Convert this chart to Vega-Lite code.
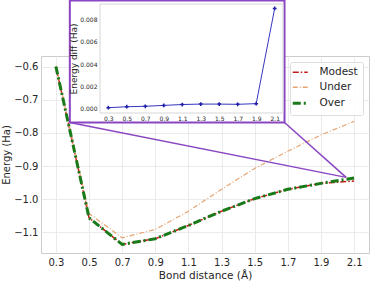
{
  "$schema": "https://vega.github.io/schema/vega-lite/v6.json",
  "autosize": "none",
  "width": 328,
  "height": 197,
  "padding": {"left": 41, "top": 56, "right": 5, "bottom": 29},
  "config": {
    "font": "DejaVu Sans",
    "view": {"stroke": "#cccccc", "strokeWidth": 1},
    "axis": {"gridColor": "#e6e6e6", "gridWidth": 0.8, "domain": false, "ticks": false, "labelColor": "#262626", "titleColor": "#262626", "titleFontWeight": "normal", "labelFontSize": 10, "titleFontSize": 10.5},
    "legend": {"orient": "top-right", "offset": 6, "fillColor": "rgba(255,255,255,0.85)", "strokeColor": "#dddddd", "padding": 5, "cornerRadius": 2, "labelFontSize": 10.5, "labelColor": "#262626", "symbolType": "stroke", "symbolSize": 225, "rowPadding": 4, "labelOffset": 14}
  },
  "datasets": {
    "main": [
      {"series": "Modest", "x": 0.3, "y": -0.600},
      {"series": "Modest", "x": 0.5, "y": -1.056},
      {"series": "Modest", "x": 0.7, "y": -1.136},
      {"series": "Modest", "x": 0.9, "y": -1.119},
      {"series": "Modest", "x": 1.1, "y": -1.079},
      {"series": "Modest", "x": 1.3, "y": -1.036},
      {"series": "Modest", "x": 1.5, "y": -0.998},
      {"series": "Modest", "x": 1.7, "y": -0.970},
      {"series": "Modest", "x": 1.9, "y": -0.952},
      {"series": "Modest", "x": 2.1, "y": -0.945},
      {"series": "Under", "x": 0.3, "y": -0.598},
      {"series": "Under", "x": 0.5, "y": -1.043},
      {"series": "Under", "x": 0.7, "y": -1.116},
      {"series": "Under", "x": 0.9, "y": -1.091},
      {"series": "Under", "x": 1.1, "y": -1.036},
      {"series": "Under", "x": 1.3, "y": -0.970},
      {"series": "Under", "x": 1.5, "y": -0.907},
      {"series": "Under", "x": 1.7, "y": -0.855},
      {"series": "Under", "x": 1.9, "y": -0.806},
      {"series": "Under", "x": 2.1, "y": -0.765},
      {"series": "Over", "x": 0.3, "y": -0.600},
      {"series": "Over", "x": 0.5, "y": -1.056},
      {"series": "Over", "x": 0.7, "y": -1.136},
      {"series": "Over", "x": 0.9, "y": -1.119},
      {"series": "Over", "x": 1.1, "y": -1.079},
      {"series": "Over", "x": 1.3, "y": -1.036},
      {"series": "Over", "x": 1.5, "y": -0.998},
      {"series": "Over", "x": 1.7, "y": -0.970},
      {"series": "Over", "x": 1.9, "y": -0.952},
      {"series": "Over", "x": 2.1, "y": -0.936}
    ],
    "conn": [
      {"id": "a", "x": 0.384, "y": -0.7687},
      {"id": "a", "x": 2.052, "y": -0.934},
      {"id": "b", "x": 1.680, "y": -0.7687},
      {"id": "b", "x": 2.052, "y": -0.934}
    ],
    "box": [
      {"x": 0.384, "x2": 1.680, "y": -0.7687, "y2": -0.401}
    ],
    "frame": [
      {"x": 0.21, "x2": 2.19, "d": -0.00045, "d2": 0.00945}
    ],
    "igx": [
      {"x": 0.3}, {"x": 0.5}, {"x": 0.7}, {"x": 0.9}, {"x": 1.1},
      {"x": 1.3}, {"x": 1.5}, {"x": 1.7}, {"x": 1.9}, {"x": 2.1}
    ],
    "igy": [
      {"d": 0}, {"d": 0.002}, {"d": 0.004}, {"d": 0.006}, {"d": 0.008}
    ],
    "diff": [
      {"x": 0.3, "d": 0.00003},
      {"x": 0.5, "d": 0.00012},
      {"x": 0.7, "d": 0.00016},
      {"x": 0.9, "d": 0.00024},
      {"x": 1.1, "d": 0.00032},
      {"x": 1.3, "d": 0.00036},
      {"x": 1.5, "d": 0.00036},
      {"x": 1.7, "d": 0.00034},
      {"x": 1.9, "d": 0.00040},
      {"x": 2.1, "d": 0.00905}
    ]
  },
  "layer": [
    {
      "encoding": {
        "x": {"field": "x", "type": "quantitative", "scale": {"domain": [0.21, 2.19], "nice": false, "zero": false}, "axis": {"values": [0.3, 0.5, 0.7, 0.9, 1.1, 1.3, 1.5, 1.7, 1.9, 2.1], "format": ".1f", "title": "Bond distance (Å)", "labelPadding": 4, "titlePadding": 3, "grid": true}},
        "y": {"field": "y", "type": "quantitative", "scale": {"domain": [-1.162, -0.568], "nice": false, "zero": false}, "axis": {"values": [-1.1, -1.0, -0.9, -0.8, -0.7, -0.6], "format": ".1f", "title": "Energy (Ha)", "titleFontSize": 10, "labelPadding": 3, "titlePadding": 2, "grid": true}}
      },
      "layer": [
        {
          "data": {"name": "main"},
          "mark": {"type": "line", "clip": true},
          "encoding": {
            "color": {"field": "series", "type": "nominal", "scale": {"domain": ["Modest", "Under", "Over"], "range": ["#c41a1a", "#e6a472", "#187a18"]}, "legend": {"title": null, "encode": {"symbols": {"update": {"strokeWidth": {"signal": "datum.value === 'Over' ? 3 : datum.value === 'Under' ? 1.3 : 1.5"}}}}}},
            "strokeDash": {"field": "series", "type": "nominal", "scale": {"domain": ["Modest", "Under", "Over"], "range": [[6, 2, 1.5, 2], [5, 2, 1, 2], [8, 3, 2, 3]]}, "legend": {"title": null}},
            "strokeWidth": {"condition": [{"test": "datum.series === 'Over'", "value": 3}, {"test": "datum.series === 'Under'", "value": 1.2}], "value": 1.5},
            "order": {"field": "x"}
          }
        },
        {
          "data": {"name": "conn"},
          "mark": {"type": "line", "color": "#8a46c2", "strokeWidth": 1.5, "clip": false},
          "encoding": {
            "detail": {"field": "id"}
          }
        },
        {
          "data": {"name": "box"},
          "mark": {"type": "rect", "fill": "white", "stroke": "#8a46c2", "strokeWidth": 2, "clip": false},
          "encoding": {
            "x2": {"field": "x2"},
            "y2": {"field": "y2"}
          }
        }
      ]
    },
    {
      "encoding": {
        "x": {"field": "x", "type": "quantitative", "scale": {"domain": [0.21, 2.19], "range": [59, 242], "nice": false, "zero": false}, "axis": {"orient": "bottom", "offset": -140, "values": [0.3, 0.5, 0.7, 0.9, 1.1, 1.3, 1.5, 1.7, 1.9, 2.1], "format": ".1f", "title": null, "labelFontSize": 6, "labelPadding": 2, "zindex": 1, "grid": false}},
        "y": {"field": "d", "type": "quantitative", "scale": {"domain": [-0.00045, 0.00945], "range": [57, -52], "nice": false, "zero": false}, "axis": {"orient": "left", "offset": -59, "values": [0, 0.002, 0.004, 0.006, 0.008], "format": ".3f", "title": "Energy diff (Ha)", "labelFontSize": 6, "titleFontSize": 9, "labelPadding": 3, "titlePadding": 1, "zindex": 1, "grid": false}}
      },
      "layer": [
        {
          "data": {"name": "igx"},
          "mark": {"type": "rule", "color": "#e6e6e6", "strokeWidth": 0.8, "clip": false},
          "encoding": {
            "y": {"datum": -0.00045},
            "y2": {"datum": 0.00945}
          }
        },
        {
          "data": {"name": "igy"},
          "mark": {"type": "rule", "color": "#e6e6e6", "strokeWidth": 0.8, "clip": false},
          "encoding": {
            "x": {"datum": 0.21},
            "x2": {"datum": 2.19}
          }
        },
        {
          "data": {"name": "frame"},
          "mark": {"type": "rect", "fill": null, "stroke": "#d6d6d6", "strokeWidth": 1, "clip": false},
          "encoding": {
            "x2": {"field": "x2"},
            "y2": {"field": "d2"}
          }
        },
        {
          "data": {"name": "diff"},
          "mark": {"type": "line", "color": "#3535c0", "strokeWidth": 1, "clip": false}
        },
        {
          "data": {"name": "diff"},
          "mark": {"type": "point", "shape": "cross", "filled": true, "size": 14, "color": "#1f1fa8", "opacity": 1, "clip": false}
        }
      ]
    }
  ],
  "resolve": {"scale": {"x": "independent", "y": "independent"}, "axis": {"x": "independent", "y": "independent"}}
}
